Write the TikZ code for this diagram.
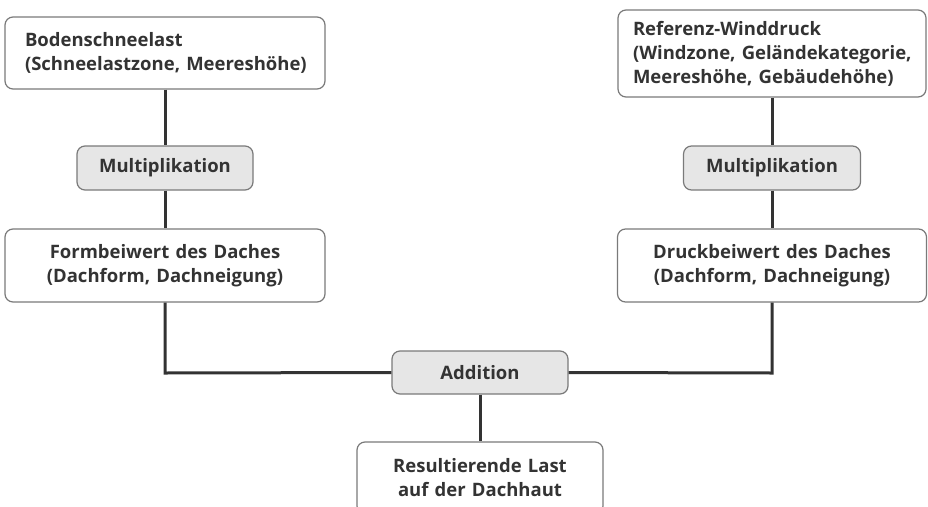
\documentclass[tikz,border=0pt]{standalone}
\usepackage{fontspec}
\setmainfont{Open Sans}[Ligatures=NoCommon]
\definecolor{txt}{HTML}{333333}
\definecolor{edge}{HTML}{7A7A7A}
\definecolor{opfill}{HTML}{E6E6E6}
\definecolor{wire}{HTML}{333333}
\begin{document}
\begin{tikzpicture}[x=1pt,y=-1pt,
  box/.style={draw=edge, line width=1.2pt, fill=white, rounded corners=8pt,
    inner sep=0pt, text=txt, font=\fontsize{18.5}{24}\selectfont\bfseries},
  opbox/.style={box, fill=opfill},
  wire/.style={draw=wire, line width=3pt}]
\useasboundingbox (0,0) rectangle (928,506);
\fill[white] (0,0) rectangle (928,506);
\clip (0,0) rectangle (928,506);
\coordinate (lc) at (165,373);
\coordinate (rc) at (772,373);
\node[box, minimum width=320pt, minimum height=72pt, text width=280pt, align=left] (b1) at (165,53) {\mbox{Bodenschneelast}\\\mbox{(Schneelastzone, Meereshöhe)}};
\node[opbox, minimum width=176pt, minimum height=44pt] (m1) at (165,168) {Multiplikation};
\node[box, minimum width=320pt, minimum height=73pt, text width=310pt, align=center] (f1) at (165,265.5) {Formbeiwert des Daches\\(Dachform, Dachneigung)};
\node[box, minimum width=308pt, minimum height=87pt, text width=278pt, align=left] (b2) at (772,53.5) {\mbox{Referenz-Winddruck}\\\mbox{(Windzone, Geländekategorie,}\\\mbox{Meereshöhe, Gebäudehöhe)}};
\node[opbox, minimum width=177pt, minimum height=44pt] (m2) at (772,168) {Multiplikation};
\node[box, minimum width=309pt, minimum height=73pt, text width=300pt, align=center] (d2) at (772,265.5) {Druckbeiwert des Daches\\(Dachform, Dachneigung)};
\node[opbox, minimum width=176pt, minimum height=43pt] (add) at (480,372.5) {Addition};
\node[box, minimum width=246pt, minimum height=72pt, text width=240pt, align=center] (res) at (480,478) {Resultierende Last\\auf der Dachhaut};
\draw[wire] (b1.south) -- (m1.north);
\draw[wire] (m1.south) -- (f1.north);
\draw[wire] (f1.south) -- (lc) -- (add.west);
\draw[wire] (b2.south) -- (m2.north);
\draw[wire] (m2.south) -- (d2.north);
\draw[wire] (d2.south) -- (rc) -- (add.east);
\draw[wire] (add.south) -- (res.north);
\end{tikzpicture}
\end{document}
